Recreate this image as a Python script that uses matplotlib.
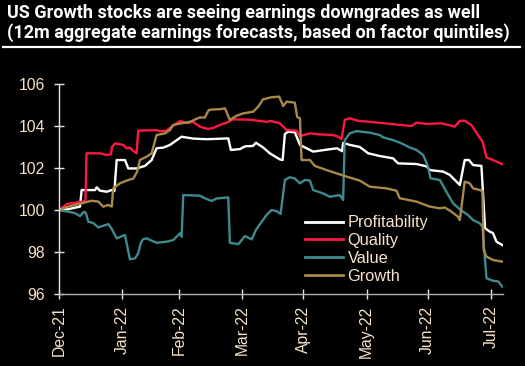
import matplotlib

matplotlib.use("Agg")
import matplotlib.dates as mdates
import matplotlib.pyplot as plt
import pandas as pd

# x values are days after 31 Dec 2021
start = pd.Timestamp("2021-12-31")

prof_days = [0, 5, 10.3, 11.1, 17.7, 18.5, 20.1, 23.4, 25.9, 27.2, 28.3, 32.4, 34, 38.1, 42.2,
             45.5, 47.9, 51.2, 54.5, 60.2, 65.9, 72.5, 83.1, 84.4, 88.8, 91.3, 95.2, 96.7,
             100.2, 103.5, 108.4, 109.8, 110.9, 112.5, 115.8, 118.3, 120.7, 124.8, 130.5,
             136.5, 139, 139.5, 142.8, 147.7, 151.8, 157.5, 164, 166.5, 175.5, 180.4, 182.1,
             188.6, 191.9, 196.8, 199.2, 201.3, 203.3, 207.4, 209.2, 211.5, 213.1, 214.8, 217.7]
prof_vals = [100.0, 100.05, 100.16, 100.95, 100.95, 101.08, 100.92, 100.87, 100.95, 100.9,
             102.38, 102.38, 101.98, 101.98, 102.1, 102.38, 102.94, 102.97, 103.1, 103.49,
             103.4, 103.37, 103.41, 102.86, 102.9, 103.03, 103.05, 103.2, 102.98, 102.7,
             102.41, 102.38, 103.62, 103.73, 103.7, 103.1, 102.98, 102.78, 102.86, 102.94,
             102.8, 103.2, 103.1, 103.0, 102.7, 102.57, 102.46, 102.22, 102.19, 102.08,
             101.9, 101.83, 101.67, 101.19, 102.38, 102.38, 102.14, 102.1, 99.13, 98.97,
             98.9, 98.49, 98.33]

qual_days = [0, 4, 12, 13, 13.5, 20, 23.4, 25.5, 26, 27.5, 31.5, 33.2, 34.8, 36.3, 38.1, 38.9,
             47.9, 49.6, 52.8, 55.3, 59.4, 62.7, 65.8, 69.2, 73.1, 75.6, 79, 82.3, 85.4, 93.7,
             101.9, 104, 108.4, 111.7, 116.6, 118.3, 123.2, 128.1, 134.6, 136.9, 138.7, 140.3,
             142.8, 146.7, 156.5, 173.1, 175.5, 180.4, 187.8, 194.3, 196.8, 199.2, 202.5,
             205.7, 208, 209.9, 212.3, 217.5]
qual_vals = [100.0, 100.29, 100.4, 100.45, 102.7, 102.7, 102.62, 102.65, 103.0, 103.17, 103.1,
             102.94, 102.97, 102.83, 102.7, 103.78, 103.8, 103.75, 103.78, 103.97, 104.24,
             104.14, 104.2, 103.97, 103.86, 103.9, 104.05, 104.16, 104.32, 104.3, 104.2,
             104.24, 104.13, 103.81, 103.78, 103.52, 103.65, 103.6, 103.57, 103.5, 103.37,
             104.29, 104.37, 104.25, 104.16, 104.0, 104.16, 104.1, 104.13, 103.97, 104.25,
             104.25, 104.05, 103.57, 103.25, 102.5, 102.41, 102.19]

val_days = [0, 4.6, 7.9, 10.3, 12.3, 13.2, 14.4, 16.8, 19.3, 24.2, 25.9, 28.3, 32.4, 34.8, 37.3,
            38.9, 40.1, 41.1, 43, 47.9, 52.8, 56.1, 59.4, 60.2, 61, 64.3, 69.2, 71.6, 74.9,
            77.4, 83.1, 83.9, 88, 91.3, 94.6, 96.7, 99.5, 101.9, 104.4, 106.8, 108.8, 110.9,
            113.3, 115.8, 118.3, 120.7, 123.2, 124.8, 129.7, 133, 137.9, 139.5, 140.3, 142.8,
            146.1, 152.6, 157.5, 159.1, 164, 167.3, 172.2, 175.5, 178.8, 181.2, 182.4, 187,
            190.2, 193.5, 196.8, 200.8, 203.3, 206.6, 207.9, 209.9, 213.1, 215.6, 217.7]
val_vals = [100.0, 99.92, 99.85, 99.71, 99.92, 99.85, 99.44, 99.38, 99.17, 99.33, 99.1, 98.65,
            98.81, 97.65, 97.7, 97.94, 98.41, 98.6, 98.65, 98.44, 98.49, 98.57, 98.89, 98.73,
            100.71, 100.7, 100.68, 100.56, 100.43, 100.55, 100.6, 98.44, 98.37, 98.76, 98.6,
            99.05, 99.44, 99.76, 100.0, 99.95, 99.81, 101.43, 101.56, 101.5, 101.27, 101.43,
            101.4, 100.95, 100.79, 100.63, 100.71, 100.48, 103.33, 103.65, 103.76, 103.68,
            103.57, 103.46, 103.33, 103.21, 102.98, 102.86, 102.62, 102.06, 101.51, 101.43,
            100.87, 100.32, 100.03, 99.76, 99.52, 99.37, 99.2, 96.75, 96.63, 96.6, 96.35]

grow_days = [0, 4.6, 11.1, 16, 19.3, 21.7, 24.2, 25.9, 26.6, 29.9, 34, 36.5, 38.4, 39.7, 43,
             45.5, 47.9, 52, 54.5, 56.1, 60.2, 64.3, 69.2, 71.6, 73.5, 75.7, 79, 81.5, 83.9,
             87, 90.4, 95.3, 97.8, 100.2, 104.4, 108.1, 110.1, 111.7, 115.8, 116.9, 118.3,
             119.1, 123.2, 125.6, 131.4, 141.2, 147.7, 152.6, 160.8, 165.7, 167.3, 175.5,
             182.1, 187, 189.4, 192.7, 195.9, 196.8, 199.2, 201.7, 203.3, 206.6, 207.9, 208.5,
             209.9, 213.1, 217.7]
grow_vals = [100.0, 100.16, 100.32, 100.44, 100.4, 100.16, 100.24, 100.16, 101.03, 101.27,
             101.43, 101.5, 101.83, 102.38, 102.54, 102.7, 103.57, 103.65, 103.81, 104.05,
             104.13, 104.2, 104.41, 104.4, 104.76, 104.79, 104.8, 104.84, 104.29, 104.48,
             104.6, 104.68, 104.92, 105.27, 105.37, 105.4, 104.95, 105.16, 105.11, 104.44,
             104.36, 102.38, 102.38, 102.1, 101.9, 101.59, 101.4, 101.11, 101.03, 100.92,
             100.56, 100.4, 100.16, 100.08, 100.12, 99.92, 99.68, 99.52, 101.35, 101.27,
             101.03, 100.95, 100.9, 98.1, 97.78, 97.62, 97.54]

labels = ["Profitability", "Quality", "Value", "Growth"]
colors = ["#ffffff", "#ff1744", "#3f8a8e", "#a8894a"]
yticks = [96, 98, 100, 102, 104, 106]

title_1 = "US Growth stocks are seeing earnings downgrades as well"
title_2 = "(12m aggregate earnings forecasts, based on factor quintiles)"


def to_dates(days):
    return start + pd.to_timedelta(days, unit="D")


txt_color = "#f8e2c8"
plt.rcParams["font.family"] = ["Liberation Sans", "DejaVu Sans"]

fig = plt.figure(figsize=(5.25, 3.66), dpi=100, facecolor="black")
ax = fig.add_axes([0.1124, 0.1967, 0.8457, 0.5738], facecolor="black")

series = [(prof_days, prof_vals), (qual_days, qual_vals), (val_days, val_vals), (grow_days, grow_vals)]
for (d, v), lab, col in zip(series, labels, colors):
    ax.plot(to_dates(d), v, color=col, lw=1.7, label=lab, solid_joinstyle="round")

ax.set_ylim(96, 106)
ax.set_yticks(yticks)
ax.set_xlim(start, start + pd.Timedelta(days=218))
ax.set_xticks(pd.date_range("2021-12-31", "2022-07-31", freq="ME"))
ax.xaxis.set_major_formatter(mdates.DateFormatter("%b-%y"))
plt.setp(ax.get_xticklabels(), rotation=90)

for s in ["top", "right"]:
    ax.spines[s].set_visible(False)
ax.spines["left"].set_color("#e8e8e8")
ax.spines["bottom"].set_color("#b0b0b0")
ax.spines["left"].set_linewidth(1.0)
ax.spines["bottom"].set_linewidth(1.0)
ax.tick_params(axis="both", direction="inout", length=6.5, width=1.0, color="#e8e8e8",
               labelcolor=txt_color, labelsize=11.3)
ax.tick_params(axis="y", pad=7)
ax.tick_params(axis="x", pad=5)

leg = ax.legend(loc="upper left", bbox_to_anchor=(0.554, 0.375), frameon=False,
                borderpad=0, borderaxespad=0, handlelength=2.3, handletextpad=0.3,
                labelspacing=0.17, fontsize=11.8)
for t in leg.get_texts():
    t.set_color(txt_color)
for h in leg.get_lines():
    h.set_linewidth(2.0)

fig.text(0.013, 1 - 18.5 / 366, title_1, color="white", fontsize=13, fontweight="bold",
         family="Roboto", va="baseline")
fig.text(0.013, 1 - 37.5 / 366, title_2, color="white", fontsize=13, fontweight="bold",
         family="Roboto", va="baseline")
fig.add_artist(plt.Line2D([3 / 525, 520 / 525], [1 - 47 / 366] * 2, color="white", lw=1.6))

fig.savefig("out.png", dpi=100, facecolor="black")
